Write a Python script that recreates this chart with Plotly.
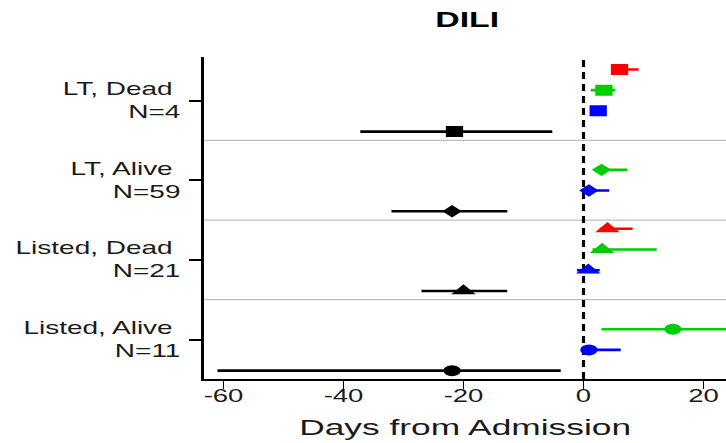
import plotly.graph_objects as go

# ---- data -------------------------------------------------------------
groups = ["LT, Dead", "LT, Alive", "Listed, Dead", "Listed, Alive"]
group_n = [4, 59, 21, 11]
group_symbols = ["square", "diamond", "triangle-up", "circle"]

# median day and interval bounds for each group (None = not reported)
red_mid = [6.0, None, 4.0, None]
red_lo = [5.0, None, 2.7, None]
red_hi = [9.2, None, 8.2, None]

green_mid = [3.4, 3.0, 3.1, 14.9]
green_lo = [1.2, 1.8, 1.5, 3.0]
green_hi = [5.3, 7.3, 12.2, 28.0]

blue_mid = [2.45, 0.9, 0.8, 0.9]
blue_lo = [1.9, -0.2, -1.1, -0.2]
blue_hi = [3.0, 4.3, 2.7, 6.2]

black_mid = [-21.5, -21.9, -20.0, -21.9]
black_lo = [-37.2, -32.0, -27.0, -61.0]
black_hi = [-5.2, -12.7, -12.7, -3.8]

x_ticks = [-60, -40, -20, 0, 20]

# ---- styling ----------------------------------------------------------
FONT = "Liberation Sans, Arial, sans-serif"
TEXT = "#1a1a1a"
BASE_W, H = 462, 443          # figure is drawn narrow, then widened on the page
STRETCH = 726 / BASE_W
symbol_size = {"square": 11, "diamond": 9.5, "triangle-up": 13.5, "circle": 11}

series = [
    ("#FF0000", red_mid, red_lo, red_hi, 0.39),
    ("#00CD00", green_mid, green_lo, green_hi, 0.13),
    ("#0000FF", blue_mid, blue_lo, blue_hi, -0.13),
    ("#000000", black_mid, black_lo, black_hi, -0.39),
]

n_groups = len(groups)
group_pos = [n_groups - i for i in range(n_groups)]  # first group at the top

fig = go.Figure()

for color, mid, lo, hi, off in series:
    xs, ys, plus, minus, syms, sizes = [], [], [], [], [], []
    for i, m in enumerate(mid):
        if m is None:
            continue
        xs.append(m)
        ys.append(group_pos[i] + off)
        plus.append(hi[i] - m)
        minus.append(m - lo[i])
        syms.append(group_symbols[i])
        sizes.append(symbol_size[group_symbols[i]])
    fig.add_trace(go.Scatter(
        x=xs, y=ys, mode="markers",
        marker=dict(color=color, symbol=syms, size=sizes, opacity=1,
                    line=dict(width=0)),
        error_x=dict(type="data", symmetric=False, array=plus, arrayminus=minus,
                     width=0, thickness=2.6, color=color),
        showlegend=False, hoverinfo="skip",
    ))

# separators between groups
for k in range(n_groups - 1):
    fig.add_hline(y=k + 1.5, line=dict(color="#BEBEBE", width=1.3), layer="below")

# reference line at admission
fig.add_vline(x=0, line=dict(color="#000000", width=2.0, dash="7px,5px"), layer="below")

# group labels on the left
for i, g in enumerate(groups):
    fig.add_annotation(
        x=0, xref="paper", y=group_pos[i], yref="y",
        text=f"{g}\u00a0<br>N={group_n[i]}",
        showarrow=False, xanchor="right", yanchor="middle", align="right",
        xshift=-13, font=dict(family=FONT, size=17.8, color=TEXT),
    )

fig.add_annotation(
    x=0.5035, xref="paper", y=1, yref="paper", yshift=37,
    text="<b>DILI</b>", showarrow=False, xanchor="center", yanchor="middle",
    font=dict(family=FONT, size=21.5, color="#000000"),
)

fig.update_layout(
    width=BASE_W, height=H,
    margin=dict(l=130, r=0, t=57, b=64),
    plot_bgcolor="white", paper_bgcolor="white",
    font=dict(family=FONT, color=TEXT),
    xaxis=dict(
        range=[-63.2, 23.75], tickvals=x_ticks, ticktext=[str(v) for v in x_ticks],
        showgrid=False, zeroline=False,
        showline=True, linecolor="#000000", linewidth=2,
        ticks="outside", ticklen=8, tickwidth=1.1, tickcolor="#000000",
        ticklabelstandoff=-8,
        tickfont=dict(family=FONT, size=17.5, color=TEXT),
        title=dict(text="Days from Admission", standoff=14,
                   font=dict(family=FONT, size=22.5, color=TEXT)),
    ),
    yaxis=dict(
        range=[0.505, 4.546], tickvals=group_pos, showticklabels=False,
        showgrid=False, zeroline=False,
        showline=True, linecolor="#000000", linewidth=1.8,
        ticks="outside", ticklen=7.6, tickwidth=1.5, tickcolor="#000000",
    ),
)

# widen the drawn figure horizontally to the full page width
post = (
    "var gd = document.getElementById('{plot_id}');"
    "gd.style.transformOrigin = '0 0';"
    f"gd.style.transform = 'scaleX({STRETCH:.5f})';"
)

fig.write_html("out.html", config={"displayModeBar": False}, post_script=post)
